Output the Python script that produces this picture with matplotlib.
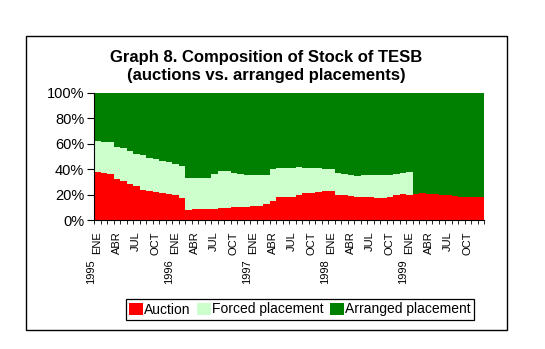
import matplotlib
matplotlib.use("Agg")
import matplotlib.pyplot as plt
from matplotlib.patches import Patch, Rectangle
import numpy as np

plt.rcParams['font.family'] = ['Liberation Sans', 'DejaVu Sans']

years = ["1995", "1996", "1997", "1998", "1999"]
month_labels = ["ENE", "ABR", "JUL", "OCT"]

# Shares of stock (%), monthly Jan 1995 - Dec 1999
auction = [37.6, 37.3, 36.6, 32.3, 30.5, 28.6, 26.4, 24.0, 23.2, 21.9, 21.5, 20.6,
           19.5, 17.2, 7.6, 8.3, 8.3, 8.4, 8.9, 9.4, 9.5, 9.9, 10.0, 10.3,
           10.9, 11.1, 12.6, 15.3, 17.8, 18.2, 18.4, 19.9, 21.0, 21.6, 22.1, 22.6,
           23.2, 20.0, 19.5, 18.9, 18.4, 17.9, 17.9, 17.6, 17.6, 18.4, 19.5, 20.3,
           20.0, 20.8, 21.0, 20.8, 20.5, 20.0, 19.7, 19.2, 18.4, 17.9, 17.9, 18.4]
forced = [24.5, 24.1, 24.7, 25.1, 26.3, 26.1, 25.2, 26.8, 25.7, 26.3, 25.3, 24.9,
          24.7, 25.2, 25.6, 24.9, 24.9, 24.8, 27.4, 29.5, 28.9, 26.9, 26.3, 25.2,
          24.4, 24.2, 23.2, 24.7, 23.0, 22.6, 22.7, 21.7, 20.1, 19.2, 19.0, 17.9,
          17.3, 16.8, 16.8, 16.9, 16.6, 17.4, 17.4, 17.7, 17.7, 17.1, 16.8, 16.8,
          17.6, 0, 0, 0, 0, 0, 0, 0, 0, 0, 0, 0]
arranged = [37.9, 38.6, 38.7, 42.6, 43.2, 45.3, 48.4, 49.2, 51.1, 51.8, 53.2, 54.5,
            55.8, 57.6, 66.8, 66.8, 66.8, 66.8, 63.7, 61.1, 61.6, 63.2, 63.7, 64.5,
            64.7, 64.7, 64.2, 60.0, 59.2, 59.2, 58.9, 58.4, 58.9, 59.2, 58.9, 59.5,
            59.5, 63.2, 63.7, 64.2, 65.0, 64.7, 64.7, 64.7, 64.7, 64.5, 63.7, 62.9,
            62.4, 79.2, 79.0, 79.2, 79.5, 80.0, 80.3, 80.8, 81.6, 82.1, 82.1, 81.6]

series_names = ["Auction", "Forced placement", "Arranged placement"]
colors = ["#FF0000", "#CCFFCC", "#008000"]

W, H = 545, 349
fig = plt.figure(figsize=(W / 100, H / 100), dpi=100)

# outer frame
fig.patches.append(Rectangle((26 / W, 1 - 330 / H), (507 - 26) / W, (330 - 36) / H,
                             transform=fig.transFigure, fill=False, edgecolor="black",
                             linewidth=1.0))

left, right, top, bottom = 94, 484, 93, 220
ax = fig.add_axes([left / W, 1 - bottom / H, (right - left) / W, (bottom - top) / H])

n = len(auction)
x = np.arange(n)
a = np.array(auction)
f = np.array(forced)
r = np.array(arranged)
tot = a + f + r
a, f, r = a / tot * 100, f / tot * 100, r / tot * 100
ax.bar(x, a, width=1.0, color=colors[0], linewidth=0)
ax.bar(x, f, width=1.0, bottom=a, color=colors[1], linewidth=0)
ax.bar(x, r, width=1.0, bottom=a + f, color=colors[2], linewidth=0)

ax.set_xlim(-0.5, n - 0.5)
ax.set_ylim(0, 100)
ax.set_yticks([0, 20, 40, 60, 80, 100])
ax.set_yticklabels([f"{v}%" for v in [0, 20, 40, 60, 80, 100]], fontsize=10.5)
ax.tick_params(axis='y', length=5, width=0.8, pad=2)

for s in ["top", "right"]:
    ax.spines[s].set_visible(False)
ax.spines["left"].set_linewidth(0.8)
ax.spines["bottom"].set_linewidth(0.8)

label_pos = np.arange(0, n, 3)
ax.set_xticks(label_pos)
ax.set_xticklabels([month_labels[(i // 3) % 4] for i in label_pos], rotation=90,
                   fontsize=8)
ax.tick_params(axis='x', which='major', length=0, pad=8)
ax.set_xticks(np.arange(-0.5, n, 1), minor=True)
ax.tick_params(axis='x', which='minor', length=3, width=0.6, direction='out')

for k, yr in enumerate(years):
    ax.annotate(yr, xy=(k * 12, 0), xycoords=('data', 'axes fraction'),
                xytext=(-4.3, -28), textcoords='offset points', rotation=90,
                ha='center', va='top', fontsize=8)

fig.text(266 / W, 1 - 62 / H, "Graph 8. Composition of Stock of TESB", ha='center',
         va='baseline', fontsize=12, fontweight='bold')
fig.text(266 / W, 1 - 80 / H, "(auctions vs. arranged placements)", ha='center',
         va='baseline', fontsize=12, fontweight='bold')

handles = [Patch(facecolor=c, edgecolor='none', label=l) for c, l in zip(colors, series_names)]
leg = fig.legend(handles=handles, loc='center', bbox_to_anchor=(300 / W, 1 - 309.5 / H),
                 ncol=3, fontsize=10, frameon=True, fancybox=False, framealpha=1,
                 edgecolor='black', borderpad=0.25, handlelength=0.95, handleheight=1.0,
                 handletextpad=0.1, columnspacing=0.5, borderaxespad=0)
leg.get_frame().set_linewidth(0.9)

fig.savefig("out.png", dpi=100)
